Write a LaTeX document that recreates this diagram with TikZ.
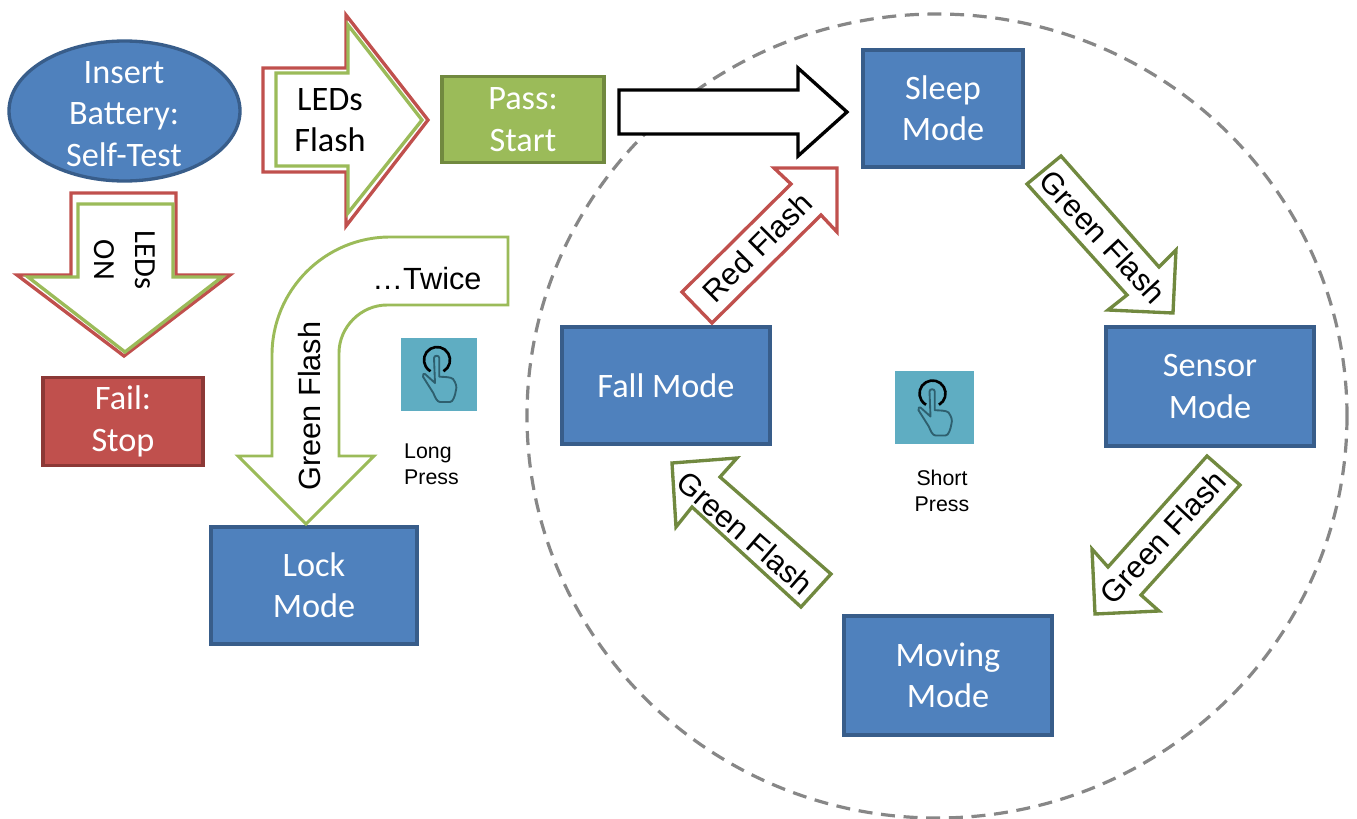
\documentclass[tikz,border=0pt]{standalone}
\usepackage{fontspec}
\setmainfont{Carlito}
\newfontfamily\arialf{Liberation Sans}
\usetikzlibrary{shapes.geometric}
\definecolor{bluefill}{HTML}{4F81BD}
\definecolor{blueline}{HTML}{385D8A}
\definecolor{greenfill}{HTML}{9BBB59}
\definecolor{greenline}{HTML}{71893F}
\definecolor{redfill}{HTML}{C0504D}
\definecolor{redline}{HTML}{8C3836}
\definecolor{teal}{HTML}{5FADC2}
\definecolor{handline}{HTML}{2E5F6E}
\tikzset{
  x=0.75pt,y=-0.75pt,
  sz/.style 2 args={minimum width=#1*0.75pt,minimum height=#2*0.75pt},
  big/.style={font=\fontsize{25.7}{31}\selectfont,align=center,inner sep=0pt},
  modebox/.style={big,text=white,fill=#1fill,draw=#1line,line width=2.5pt},
  modebox/.default=blue,
  lab/.style={font=\arialf\fontsize{23}{28}\selectfont,align=center,inner sep=0pt,text=black},
  small/.style={font=\arialf\fontsize{16}{19.5}\selectfont,inner sep=0pt,text=black},
  redarrow/.style={draw=redfill,line width=2.5pt,fill=white},
  greenarrow/.style={draw=greenfill,line width=2.5pt,fill=white},
  darkarrow/.style={draw=greenline,line width=2.5pt,fill=white},
  pics/touch/.style={code={
    \fill[teal] (-#1,-36.5) rectangle (#1,36.5);
    \draw[black,line width=2pt] (-2,-14) ++(60:13) arc[start angle=60,end angle=-240,radius=13];
    \draw[handline,line width=1.4pt,line join=round]
      (-5,-16) .. controls (-5,-19) and (0.3,-19) .. (0.3,-16) -- (0.3,2.7)
      .. controls (6,3) and (12,3) .. (14,5)
      .. controls (17,9) and (18,13) .. (17,16)
      .. controls (16,22) and (14,28) .. (11,28) -- (1,28)
      .. controls (-2,28) and (-4,23) .. (-5.7,19) -- (-16,2.7)
      .. controls (-16.5,0) and (-15,-1) .. (-14,0) -- (-4,9) -- cycle;
  }},
}
\begin{document}
\begin{tikzpicture}
\useasboundingbox (0,0) rectangle (1357,818);
% mode loop
\draw[draw=black!47,line width=2.4pt,dash pattern=on 10.5pt off 6.5pt] (937,416) ellipse [x radius=410,y radius=402];

% nodes
\node[modebox,shape=ellipse,sz={231}{140}] (battery) at (124.5,111) {};
\node[big,text=white] (batterytext) at (124,114) {Insert\\Battery:\\Self-Test};
\node[modebox=green,sz={162}{86}] (pass) at (523,119.5) {Pass:\\Start};
\node[modebox=red,sz={160}{88}] (fail) at (123,421.5) {Fail:\\Stop};
\node[modebox,sz={160}{117}] (sleep) at (943,108.5) {Sleep\\Mode};
\node[modebox,sz={208}{119}] (sensor) at (1210,386.5) {Sensor\\Mode};
\node[modebox,sz={208}{119}] (moving) at (948,675.5) {Moving\\Mode};
\node[modebox,sz={208}{117}] (fall) at (666,385.5) {Fall Mode};
\node[modebox,sz={206}{117}] (lock) at (314,585.5) {Lock\\Mode};

% LEDs flash arrow (double outline)
\draw[redarrow] (263,68) -- (346,68) -- (346,15) -- (428,120) -- (346,226) -- (346,172) -- (263,172) -- cycle;
\draw[greenarrow] (276,73) -- (348,73) -- (348,25) -- (422,120) -- (348,213) -- (348,166) -- (276,166) -- cycle;
\node[big] (ledsflash) at (330,120) {LEDs\\Flash};

% LEDs ON arrow (double outline)
\draw[redarrow] (71,193) -- (176,193) -- (176,275) -- (230,275) -- (124,356) -- (17,275) -- (71,275) -- cycle;
\draw[greenarrow] (78,204) -- (173,204) -- (173,277) -- (222,277) -- (125,352) -- (28,277) -- (78,277) -- cycle;
\node[big,font=\fontsize{23}{31}\selectfont,rotate=-90] (ledson) at (125,260) {LEDs\\ON};

% start arrow
\draw[draw=black,line width=2.5pt,fill=white] (619,90) -- (798,90) -- (798,68) -- (847,112) -- (798,156) -- (798,134) -- (619,134) -- cycle;

% flash arrows
\draw[redarrow] (682,292) -- (791,184) -- (774,168) -- (837,168) -- (837,232) -- (821,215) -- (712,323) -- cycle;
\node[lab,rotate=45] (redflash) at (757,247) {Red Flash};
\draw[darkarrow] (1027,184) -- (1061,156) -- (1159,267) -- (1176,250) -- (1173,313) -- (1108,310) -- (1127,295) -- cycle;
\node[lab,rotate=-47] (flashone) at (1103,237) {Green Flash};
\draw[darkarrow] (1207,456) -- (1240,485) -- (1141,595) -- (1159,611) -- (1095,614) -- (1092,549) -- (1108,567) -- cycle;
\node[lab,rotate=47] (flashtwo) at (1163,537) {Green Flash};
\draw[darkarrow] (672,463) -- (737,458) -- (720,477) -- (831,574) -- (801,607) -- (692,507) -- (676,527) -- cycle;
\node[lab,rotate=-41] (flashthree) at (745,533) {Green Flash};

% lock arrow
\draw[draw=greenfill,line width=2.2pt,fill=white] (508,237) -- (390,237)
  .. controls (325,237) and (272,290) .. (272,355) -- (272,456) -- (238,456) -- (306,524) -- (374,456) -- (339,456) -- (339,353)
  .. controls (339,327) and (361,305) .. (387,305) -- (508,305) -- cycle;
\node[lab] (twice) at (427,279) {…Twice};
\node[lab,rotate=90] (flashlock) at (310,406) {Green Flash};

% press icons
\pic at (439,374) {touch=38};
\node[small,align=left] (longpress) at (431.5,464) {Long\\Press};
\pic at (934.5,407.5) {touch=39.5};
\node[small,align=center] (shortpress) at (942,491) {Short\\Press};
\end{tikzpicture}
\end{document}
